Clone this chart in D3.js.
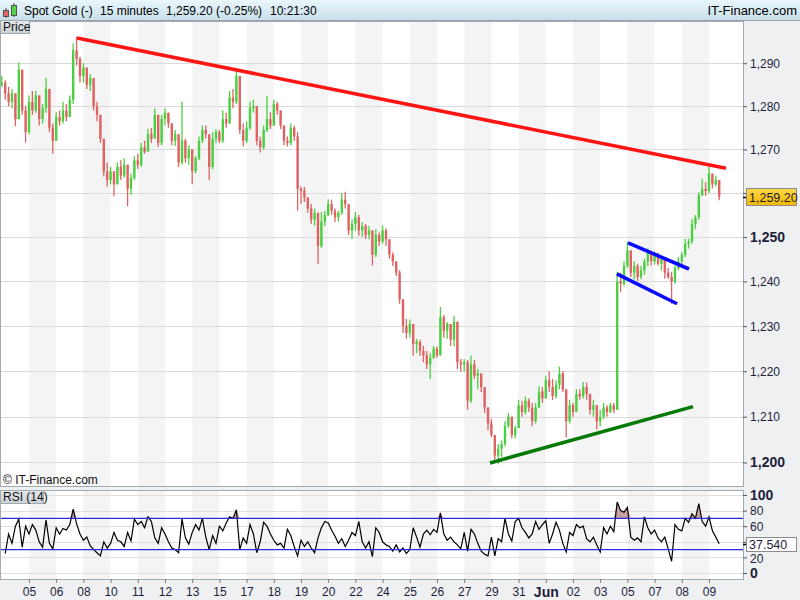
<!DOCTYPE html>
<html><head><meta charset="utf-8">
<script src="https://cdn.jsdelivr.net/npm/d3@7"></script>
<style>
body{margin:0;background:#eef0f2;}
svg{display:block;font-family:"Liberation Sans",Arial,sans-serif;}
</style></head><body>
<svg id="chart" width="800" height="600"></svg>
<script>
// ---------------- DATA ----------------
const dayLabels = ["05","06","08","10","11","12","13","15","17","18","19","20","22","24","25","26","27","29","31","Jun","02","03","05","07","08","09"];
const boldDayLabels = ["Jun"];
const firstOpen = 1284.8;
const closes = [
1285.5,1283,1281,1283,1277,1288.5,1279,1274,1281,1279,
1282.5,1277,1279.5,1284,1275,1272,1277.5,1276.5,1279,1277.5,
1281.5,1293,1291,1287,1289,1285,1286.5,1280,1278,1272.5,
1265,1263,1265,1262,1266,1264,1266.5,1261,1263.5,1267.5,
1266.5,1270.5,1269.5,1273.5,1272.5,1278,1271.5,1277,1278.5,1276,
1272,1273.5,1267,1272,1268,1270,1265,1268,1272,1274.5,
1273.5,1266,1272.5,1274,1272,1277,1276,1282,1281,1287,
1274.5,1272,1275,1279.5,1280,1272,1270.5,1274.5,1277,1275.5,
1280.5,1279,1275.5,1272,1271.5,1275,1273,1261,1260.5,1259,
1256.5,1254,1255.5,1248,1253.5,1255,1257.5,1256,1254.5,1255.5,
1258.5,1257.5,1251.5,1253,1254.5,1251.5,1252.5,1250.5,1251.5,1246,
1250.5,1249,1251.5,1249.5,1246,1244.5,1242,1236,1230,1228.5,
1230.5,1226,1226.5,1224.5,1223.5,1221.5,1223,1225,1223.5,1232,
1229,1230.5,1227,1231,1222,1221.5,1222,1213.5,1221.5,1219,
1219.5,1216.5,1212,1208.5,1206,1201.5,1203,1204,1208,1210,
1206,1207.5,1212.5,1211,1213.5,1212,1209,1212,1215.5,1214,
1218,1216.5,1214.5,1217,1219.5,1216,1209,1212.5,1211,1215,
1214.5,1216.5,1215,1211.5,1212.5,1209,1210,1212,1211,1212.5,
1211.5,1240,1239.5,1243.5,1247,1242,1243.5,1241,1242.5,1244.5,
1246.5,1244.5,1246,1244,1245,1242,1241,1240,1243,1244.5,
1246,1248.5,1249,1253,1254.5,1259.5,1261,1260.5,1264.5,1262,
1263,1259.2];
const highs = [
1287,1286,1284.5,1284,1281,1290.2,1287,1280,1282.5,1283.5,
1283.5,1281,1280.5,1286.6,1284,1276,1278.6,1279,1281,1280.5,
1282.5,1294.6,1296.2,1291.5,1290,1288,1287.5,1286.5,1281,1277,
1272,1267,1266,1265,1267,1267.5,1268,1266.5,1264.5,1268.5,
1269,1271.5,1272,1274.7,1275,1279.5,1278,1278,1279.5,1278.5,
1276,1274.5,1273.5,1281,1272.5,1271,1270,1268.5,1273,1275.5,
1275.5,1273.5,1274,1274.7,1274.5,1279,1278.5,1283.5,1284,1288.5,
1287,1276,1276.5,1281,1281.5,1280,1273,1275.5,1282.3,1278.6,
1281.5,1281,1279,1275.5,1273,1276,1275.5,1274,1261.5,1261.4,
1259,1257.5,1256.5,1255.5,1255.7,1256,1258.6,1258.5,1256.5,1256,
1260,1260.3,1257.5,1254,1255.7,1255,1253.4,1253,1252.5,1251.5,
1251.8,1251,1252.6,1252,1249.5,1246.5,1244.5,1242.5,1236,1231.6,
1231.5,1230.5,1227.2,1227,1225.6,1224.5,1224,1225.6,1225.5,1234.3,
1232.5,1231,1229.5,1232.3,1231,1222.7,1222.7,1222.5,1223.4,1222.5,
1220.5,1219.5,1216.5,1212,1209.5,1206,1204,1204.8,1209,1210.8,
1210,1208,1213.7,1213.5,1214.4,1214,1213,1213,1216.7,1216.5,
1219,1220,1218.3,1218,1221,1220,1216,1213.7,1213,1216,
1216,1217.6,1217.5,1215,1213.7,1212.5,1211.5,1213,1212.5,1213,
1213,1242.2,1242,1244.5,1249,1247,1244.5,1244,1243.5,1245.1,
1247.4,1247,1246.7,1246.5,1245.5,1245.1,1243,1242.2,1243.6,1245.5,
1246.7,1249.6,1249.6,1254.1,1255,1260.2,1263.3,1262.5,1266.1,1264.4,
1264,1261.5];
const lows = [
1284.5,1281.5,1280,1279.5,1275.4,1277,1278,1271.6,1273.5,1278,
1278.5,1275.5,1276,1278.5,1274,1269,1272,1275.5,1276,1276.5,
1277.5,1280.5,1289.5,1285.5,1285.5,1284,1283.5,1279,1276.5,1271.5,
1263.8,1261.5,1262,1259.3,1262,1263,1263.5,1257,1259.5,1263,
1265.5,1266,1269,1269.5,1271.5,1272.5,1270.6,1271,1275.5,1275,
1271,1270.8,1266,1266.5,1267,1266.5,1262,1264.5,1267.5,1271.5,
1272.5,1263,1265.5,1271.5,1271.5,1271.5,1275,1276,1279.5,1280.5,
1273.5,1270.7,1271.5,1274.5,1278.5,1271,1269.3,1270,1274,1274.7,
1275.5,1278,1274.7,1271,1270.7,1271,1272,1256,1257.5,1258,
1255.5,1253,1252.6,1244,1247.5,1252.5,1254.8,1255,1253.4,1253.5,
1255,1256.5,1250.5,1249.6,1251.5,1250.3,1250,1249.6,1249.5,1243.6,
1245.5,1248,1248.5,1248,1245.1,1243.5,1241.2,1235,1228.5,1227.2,
1227.5,1223.4,1224,1223.4,1222,1220.5,1218.3,1222.7,1223,1223.5,
1227.5,1227.2,1225.6,1225.6,1220.5,1219.9,1220,1211.5,1213,1218.3,
1216,1215.4,1210.8,1207,1205.5,1200.6,1199.6,1201.2,1203.5,1207.5,
1205.3,1205.3,1207.5,1210,1210.5,1211,1207.9,1208.5,1212,1213,
1214,1215.4,1213.7,1214,1216,1215.4,1205.5,1208.5,1210,1211,
1213.7,1214,1213.7,1210.5,1210,1207.2,1207.9,1209.5,1210,1210.8,
1210.8,1211.5,1237.6,1239,1243,1241,1240.5,1240.1,1240.5,1241.5,
1243.5,1243.6,1243.8,1243.6,1242.5,1240.6,1240.6,1235,1239.5,1242.5,
1243.6,1245.5,1247.4,1248.5,1251.8,1254,1259.4,1259.4,1260,1261.1,
1261.5,1258.4];
const rsiValues = [
null,25,50,38,60,69,33,60,50,62,
55,40,33,68,38,31,58,50,57,55,
62,82,63,50,42,46,35,30,26,22,
40,32,38,52,42,40,34,52,41,69,
62,66,58,72,66,45,38,58,50,40,
32,30,26,69,45,37,52,62,55,70,
46,30,48,38,60,54,64,72,70,81,
30,45,38,62,50,26,40,65,60,50,
42,36,38,32,56,48,34,22,42,34,
40,32,26,45,58,66,64,55,47,38,
44,34,42,52,48,66,40,32,40,21,
58,52,40,36,34,28,36,27,32,25,
30,58,46,33,50,55,49,56,52,77,
50,42,46,40,36,31,52,28,56,50,
38,28,24,22,46,22,44,40,70,50,
41,66,70,58,52,45,50,66,56,62,
67,38,50,65,55,38,27,52,48,62,
58,60,44,40,46,36,27,58,50,60,
53,91,80,78,84,46,42,45,40,72,
58,50,55,45,40,46,31,15,62,56,
54,70,65,76,70,89,66,60,72,54,
46,37.54];
const priceTicks = [1200,1210,1220,1230,1240,1250,1260,1270,1280,1290];
const boldPriceTicks = [1200,1250];
const hiddenPriceTicks = [1260];
const rsiTicks = [0,20,40,60,80,100];
const boldRsiTicks = [0,100];
const hiddenRsiTicks = [40];
const rsiBands = [30,70];
const lastPrice = 1259.20;
const lastRsi = 37.540;
// trend lines: [bar index, price]
const redTrend = [[22.1,1295.9],[213,1265.7]];
const greenTrend = [[143.6,1199.9],[203.3,1212.2]];
const blueUpper = [[184.2,1248.7],[202.1,1242.8]];
const blueLower = [[180.9,1241.7],[198.6,1235.0]];
const headerParts = ["Spot Gold (-)","15 minutes","1,259.20 (-0.25%)","10:21:30"];
const barsPerDay = 8;

// ---------------- LAYOUT ----------------
const W = 800, H = 600;
const plotR = 743, pTop = 21, pBot = 486, rTop = 490, rBot = 579;
const textCol = "#1e1e3a";
const headerX = [24, 100, 166, 270];
const svg = d3.select("#chart");
const defs = svg.append("defs");
const hg = defs.append("linearGradient").attr("id","hdr").attr("x1",0).attr("y1",0).attr("x2",0).attr("y2",1);
hg.append("stop").attr("offset","0%").attr("stop-color","#eaf7fc");
hg.append("stop").attr("offset","100%").attr("stop-color","#c8dfe9");
const yg = defs.append("linearGradient").attr("id","ybox").attr("x1",0).attr("y1",0).attr("x2",0).attr("y2",1);
yg.append("stop").attr("offset","0%").attr("stop-color","#ffd94a");
yg.append("stop").attr("offset","100%").attr("stop-color","#f2b800");
const lg = defs.append("linearGradient").attr("id","lbl").attr("x1",0).attr("y1",0).attr("x2",0).attr("y2",1);
lg.append("stop").attr("offset","0%").attr("stop-color","#e6eaee");
lg.append("stop").attr("offset","100%").attr("stop-color","#c9d0d6");
defs.append("clipPath").attr("id","cp").append("rect").attr("x",1).attr("y",pTop+1).attr("width",plotR-1).attr("height",pBot-pTop-1);
defs.append("clipPath").attr("id","cr").append("rect").attr("x",1).attr("y",rTop+1).attr("width",plotR-1).attr("height",rBot-rTop-1);

svg.append("rect").attr("width",W).attr("height",H).attr("fill","#eef0f2");

// header
svg.append("rect").attr("x",0).attr("y",0).attr("width",W).attr("height",20).attr("fill","url(#hdr)");
svg.append("line").attr("x1",0).attr("x2",W).attr("y1",20.5).attr("y2",20.5).attr("stroke","#97a3ab");
svg.append("line").attr("x1",6).attr("x2",6).attr("y1",8).attr("y2",18).attr("stroke","#444");
svg.append("rect").attr("x",3.5).attr("y",10.5).attr("width",5).attr("height",6).attr("fill","#e06666").attr("stroke","#555");
svg.append("line").attr("x1",14).attr("x2",14).attr("y1",3).attr("y2",17).attr("stroke","#444");
svg.append("rect").attr("x",11.5).attr("y",5.5).attr("width",5).attr("height",10).attr("fill","#55d24a").attr("stroke","#555");
svg.selectAll("text.hdr").data(headerParts).enter().append("text").attr("class","hdr")
  .attr("x",(d,i)=>headerX[i]).attr("y",15).attr("font-size",12).attr("fill","#000").text(d=>d);
svg.append("text").attr("x",797).attr("y",15).attr("text-anchor","end").attr("font-size",13).attr("fill","#000").text("IT-Finance.com");

// scales
const X = d3.scaleLinear().domain([-0.53, 218]).range([0, plotR]);
const yP = d3.scaleLog().domain([1194.9, 1299.9]).range([pBot, pTop]);
const yR = d3.scaleLinear().domain([-7.7, 106.4]).range([rBot, rTop]);

// panels
function panel(y0, y1){
  svg.append("rect").attr("x",0.5).attr("y",y0+0.5).attr("width",plotR).attr("height",y1-y0).attr("fill","#fff").attr("stroke","#a2aab2");
}
panel(pTop, pBot);
panel(rTop, rBot);

// day stripes
const stripeIdx = dayLabels.map((d,j)=>j).filter(j=>j%2===0);
[[pTop,pBot],[rTop,rBot]].forEach(([a,b])=>{
  svg.selectAll(null).data(stripeIdx).enter().append("rect")
    .attr("x",j=>X(barsPerDay*(j+1)))
    .attr("width",j=>Math.min(plotR, X(barsPerDay*(j+2)))-X(barsPerDay*(j+1)))
    .attr("y",a+1).attr("height",b-a-1).attr("fill","#f4f4f4");
});

// price grid
svg.selectAll(null).data(priceTicks).enter().append("line")
  .attr("x1",1).attr("x2",plotR).attr("y1",d=>Math.round(yP(d))+0.5).attr("y2",d=>Math.round(yP(d))+0.5)
  .attr("stroke","#dadada");
// rsi grid
svg.selectAll(null).data(rsiTicks).enter().append("line")
  .attr("x1",1).attr("x2",plotR).attr("y1",d=>Math.round(yR(d))+0.5).attr("y2",d=>Math.round(yR(d))+0.5)
  .attr("stroke","#dedede");

// candles
const bars = closes.map((c,i)=>({i:i, o:i?closes[i-1]:firstOpen, c:c, h:highs[i], l:lows[i]}));
const up = "#4ccf42", dn = "#e06262";
const cg = svg.append("g").attr("clip-path","url(#cp)");
cg.selectAll("line.w").data(bars).enter().append("line").attr("class","w")
  .attr("x1",d=>X(d.i)).attr("x2",d=>X(d.i)).attr("y1",d=>yP(d.h)).attr("y2",d=>yP(d.l))
  .attr("stroke",d=>d.c>=d.o?up:dn).attr("stroke-width",1.3);
cg.selectAll("rect.b").data(bars).enter().append("rect").attr("class","b")
  .attr("x",d=>X(d.i)-1.2).attr("width",2.4)
  .attr("y",d=>yP(Math.max(d.o,d.c)))
  .attr("height",d=>Math.max(1, Math.abs(yP(d.o)-yP(d.c))))
  .attr("fill",d=>d.c>=d.o?up:dn);

// trend lines
const tl = d3.line().x(d=>X(d[0])).y(d=>yP(d[1]));
[[redTrend,"#ff1414"],[greenTrend,"#057a05"],[blueUpper,"#0a0aff"],[blueLower,"#0a0aff"]].forEach(([pts,col])=>{
  svg.append("path").attr("d",tl(pts)).attr("stroke",col).attr("stroke-width",3.6).attr("fill","none").attr("stroke-linecap","butt");
});

// price axis
const pAxis = svg.append("g").attr("transform",`translate(${plotR},0)`)
  .call(d3.axisRight(yP).tickValues(priceTicks).tickSize(4).tickPadding(3).tickFormat(d3.format(",")));
pAxis.select(".domain").remove();
pAxis.selectAll(".tick line").attr("stroke","#555");
pAxis.selectAll(".tick text").attr("fill",textCol)
  .attr("font-family","Liberation Sans, Arial, sans-serif")
  .attr("font-size",d=>boldPriceTicks.includes(d)?14:12)
  .attr("font-weight",d=>boldPriceTicks.includes(d)?"bold":"normal")
  .style("display",d=>hiddenPriceTicks.includes(d)?"none":null);

// last price box
const lpY = yP(lastPrice);
svg.append("line").attr("x1",plotR).attr("x2",plotR+6).attr("y1",Math.round(lpY)+0.5).attr("y2",Math.round(lpY)+0.5).attr("stroke","#000").attr("stroke-width",1.5);
svg.append("rect").attr("x",746.5).attr("y",Math.round(lpY)-8.5).attr("width",50).attr("height",17).attr("fill","url(#ybox)").attr("stroke","#8c8c8c");
svg.append("text").attr("x",749).attr("y",Math.round(lpY)+4.5).attr("font-size",12.5).attr("fill",textCol).text(d3.format(",.2f")(lastPrice));

// labels
svg.append("rect").attr("x",0.5).attr("y",20.5).attr("width",29).attr("height",13).attr("fill","url(#lbl)").attr("stroke","#a0a8b0");
svg.append("text").attr("x",3).attr("y",31).attr("font-size",12).attr("fill","#111").text("Price");
svg.append("text").attr("x",3).attr("y",484).attr("font-size",12).attr("fill","#111").text("© IT-Finance.com");
svg.append("rect").attr("x",0.5).attr("y",490.5).attr("width",43).attr("height",13).attr("fill","url(#lbl)").attr("stroke","#a0a8b0");
svg.append("text").attr("x",3).attr("y",501).attr("font-size",12).attr("fill","#111").text("RSI (14)");

// RSI
const rg = svg.append("g").attr("clip-path","url(#cr)");
svg.selectAll(null).data(rsiBands).enter().append("line")
  .attr("x1",1).attr("x2",plotR).attr("y1",d=>yR(d)).attr("y2",d=>yR(d)).attr("stroke","#2a2ad8").attr("stroke-width",1.2);
const ob = rsiBands[1];
rg.append("path").datum(rsiValues)
  .attr("d", d3.area().defined(d=>d!=null).x((d,i)=>X(i)).y0(yR(ob)).y1(d=>yR(Math.max(d,ob))))
  .attr("fill","#c9a2a2");
rg.append("path").datum(rsiValues)
  .attr("d", d3.line().defined(d=>d!=null).x((d,i)=>X(i)).y(d=>yR(d)))
  .attr("fill","none").attr("stroke","#000").attr("stroke-width",1.2);

const rAxis = svg.append("g").attr("transform",`translate(${plotR},0)`)
  .call(d3.axisRight(yR).tickValues(rsiTicks).tickSize(4).tickPadding(3));
rAxis.select(".domain").remove();
rAxis.selectAll(".tick line").attr("stroke","#555");
rAxis.selectAll(".tick text").attr("fill",textCol)
  .attr("font-family","Liberation Sans, Arial, sans-serif")
  .attr("font-size",d=>boldRsiTicks.includes(d)?14:12)
  .attr("font-weight",d=>boldRsiTicks.includes(d)?"bold":"normal")
  .attr("dy",d=>d===20?"0.45em":"0.32em")
  .style("display",d=>hiddenRsiTicks.includes(d)?"none":null);
const lrY = Math.round(yR(lastRsi));
svg.append("line").attr("x1",plotR).attr("x2",plotR+6).attr("y1",lrY+0.5).attr("y2",lrY+0.5).attr("stroke","#000").attr("stroke-width",1.5);
svg.append("rect").attr("x",746.5).attr("y",lrY-6.5).attr("width",50).attr("height",14).attr("fill","#fff").attr("stroke","#8c8c8c");
svg.append("text").attr("x",749).attr("y",lrY+5).attr("font-size",12.5).attr("fill",textCol).text(d3.format(".3f")(lastRsi));

// x axis
const dayPos = dayLabels.map((d,j)=>barsPerDay*(j+1));
const xAxis = svg.append("g").attr("transform",`translate(0,${rBot})`)
  .call(d3.axisBottom(X).tickValues(dayPos).tickSize(4).tickPadding(4).tickFormat((d,j)=>dayLabels[j]));
xAxis.select(".domain").remove();
xAxis.selectAll(".tick line").attr("stroke","#777");
xAxis.selectAll(".tick text").attr("fill",textCol)
  .attr("font-family","Liberation Sans, Arial, sans-serif")
  .attr("font-size",(d,j)=>boldDayLabels.includes(dayLabels[j])?14:12)
  .attr("font-weight",(d,j)=>boldDayLabels.includes(dayLabels[j])?"bold":"normal");
</script>
</body></html>
